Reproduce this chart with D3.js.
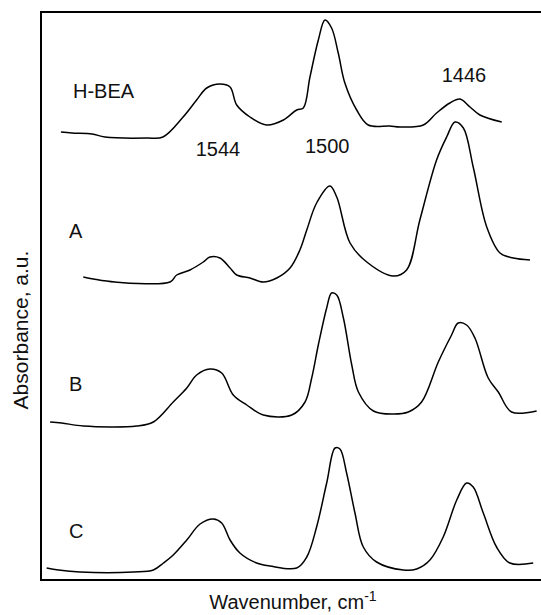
<!DOCTYPE html>
<html>
<head>
<meta charset="utf-8">
<script src="https://cdn.jsdelivr.net/npm/d3@7"></script>
<style>
  body { margin: 0; background: #fff; }
  text { font-family: "Liberation Sans", Arial, sans-serif; fill: #111; }
</style>
</head>
<body>
<div id="chart"></div>
<script>
// Spectra: [wavenumber cm-1, absorbance (stacked, a.u.)]
const seriesNames = ["H-BEA", "A", "B", "C"];
const peakLabels = ["1544", "1500", "1446"];

const hbea = [
  [1607.9, 4.48], [1603.4, 4.47], [1595.2, 4.46], [1590, 4.43], [1572.9, 4.42],
  [1566.4, 4.43], [1558.2, 4.63], [1552.7, 4.80], [1548.6, 4.92], [1543.2, 4.96],
  [1539.1, 4.93], [1536.4, 4.75], [1531, 4.63], [1524.2, 4.55], [1517.4, 4.60],
  [1512, 4.70], [1509.3, 4.72], [1506.6, 5.03], [1503.2, 5.40], [1500.5, 5.60],
  [1497.8, 5.52], [1495.1, 5.27], [1492.4, 4.97], [1487.6, 4.70], [1482.9, 4.55],
  [1474.1, 4.54], [1470, 4.53], [1460.5, 4.55], [1455.1, 4.67], [1449.7, 4.77],
  [1445.6, 4.81], [1441.5, 4.73], [1437.5, 4.65], [1428.6, 4.58]
];

const sampleA = [
  [1598.8, 3.03], [1594.7, 3.01], [1585.9, 2.98], [1563.5, 2.98], [1560.8, 3.05],
  [1555.4, 3.10], [1550, 3.18], [1547.3, 3.23], [1543.2, 3.22], [1539.1, 3.12],
  [1536.4, 3.05], [1531, 3.02], [1525.6, 2.98], [1520.1, 3.02], [1514.7, 3.12],
  [1510.7, 3.30], [1507.9, 3.50], [1503.9, 3.77], [1498.5, 3.94], [1495.7, 3.83],
  [1490.3, 3.37], [1483.5, 3.18], [1472.7, 3.04], [1467.3, 3.10], [1461.9, 3.60],
  [1455.1, 4.20], [1451, 4.43], [1447.6, 4.58], [1444.2, 4.52], [1440.2, 4.13],
  [1434.7, 3.53], [1429.3, 3.27], [1423.9, 3.22], [1417.1, 3.20]
];

const sampleB = [
  [1612.3, 1.58], [1607.6, 1.57], [1598.8, 1.54], [1577.1, 1.54], [1570.3, 1.58],
  [1562.2, 1.78], [1556.7, 1.92], [1552.7, 2.05], [1547.3, 2.11], [1542.5, 2.07],
  [1537.8, 1.85], [1532.3, 1.75], [1525.6, 1.65], [1514, 1.65], [1508.6, 1.78],
  [1505.9, 2.02], [1503.2, 2.35], [1499.8, 2.72], [1497.8, 2.87], [1495.7, 2.85],
  [1493, 2.62], [1489.6, 2.15], [1486.9, 1.88], [1480.8, 1.69], [1472.7, 1.66],
  [1466.6, 1.68], [1461.2, 1.78], [1454.4, 2.18], [1449, 2.45], [1446.3, 2.57],
  [1442.9, 2.55], [1439.5, 2.42], [1434.1, 2.02], [1430, 1.88], [1424.6, 1.68],
  [1414.4, 1.69]
];

const sampleC = [
  [1613.7, 0.12], [1608.9, 0.10], [1600.1, 0.08], [1578.4, 0.08], [1570.3, 0.10],
  [1566.2, 0.17], [1562.2, 0.25], [1556.7, 0.40], [1551.3, 0.56], [1545.9, 0.61],
  [1542.5, 0.57], [1539.1, 0.40], [1535.1, 0.27], [1528.3, 0.17], [1522.9, 0.14],
  [1512, 0.12], [1507.9, 0.23], [1503.9, 0.53], [1499.8, 0.97], [1496.4, 1.32],
  [1494.4, 1.31], [1491.7, 1.07], [1488.3, 0.67], [1484.9, 0.33], [1479.5, 0.18],
  [1468.6, 0.10], [1463.2, 0.11], [1457.8, 0.20], [1452.4, 0.43], [1446.9, 0.80],
  [1442.9, 0.97], [1440.2, 0.93], [1436.1, 0.67], [1430.7, 0.33], [1425.3, 0.17],
  [1415.8, 0.17]
];

const spectra = [hbea, sampleA, sampleB, sampleC];

// Layout
const W = 541, H = 615;
const margin = { top: 12, left: 41, right: -4, bottom: 35 };
const plotW = W - margin.left - margin.right;
const plotH = H - margin.top - margin.bottom;

const svg = d3.select("#chart")
  .append("svg")
  .attr("width", W)
  .attr("height", H);

// Scales: wavenumber decreases to the right
const x = d3.scaleLinear().domain([1616, 1411]).range([margin.left, margin.left + plotW]);
const y = d3.scaleLinear().domain([0, 5.68]).range([margin.top + plotH, margin.top]);

// Frame (left, top, bottom; right edge falls outside the picture)
svg.append("rect")
  .attr("x", margin.left)
  .attr("y", margin.top)
  .attr("width", plotW)
  .attr("height", plotH)
  .attr("fill", "none")
  .attr("stroke", "#000")
  .attr("stroke-width", 2);

// Spectra
const line = d3.line()
  .curve(d3.curveCatmullRom.alpha(0.5))
  .x(d => x(d[0]))
  .y(d => y(d[1]));

svg.append("g")
  .selectAll("path")
  .data(spectra)
  .join("path")
  .attr("d", line)
  .attr("fill", "none")
  .attr("stroke", "#000")
  .attr("stroke-width", 1.5)
  .attr("stroke-linejoin", "round");

// Series names
const nameY = [98, 238, 391, 538];
svg.append("g")
  .selectAll("text")
  .data(seriesNames)
  .join("text")
  .attr("x", d => d === "H-BEA" ? 73 : 69)
  .attr("y", (d, i) => nameY[i])
  .attr("font-size", 20)
  .text(d => d);

// Peak position labels
const peakY = [156, 153, 82];
const peakDx = [0, 1, 5];
svg.append("g")
  .selectAll("text")
  .data(peakLabels)
  .join("text")
  .attr("x", (d, i) => x(+d) + peakDx[i])
  .attr("y", (d, i) => peakY[i])
  .attr("text-anchor", "middle")
  .attr("font-size", 20)
  .text(d => d);

// Axis titles
const xTitle = svg.append("text")
  .attr("x", margin.left + plotW / 2)
  .attr("y", 609)
  .attr("text-anchor", "middle")
  .attr("font-size", 20);
xTitle.append("tspan").text("Wavenumber, cm");
xTitle.append("tspan").attr("font-size", 14).attr("dy", -8).text("-1");

svg.append("text")
  .attr("transform", "translate(28,330) rotate(-90)")
  .attr("text-anchor", "middle")
  .attr("font-size", 21)
  .text("Absorbance, a.u.");
</script>
</body>
</html>
